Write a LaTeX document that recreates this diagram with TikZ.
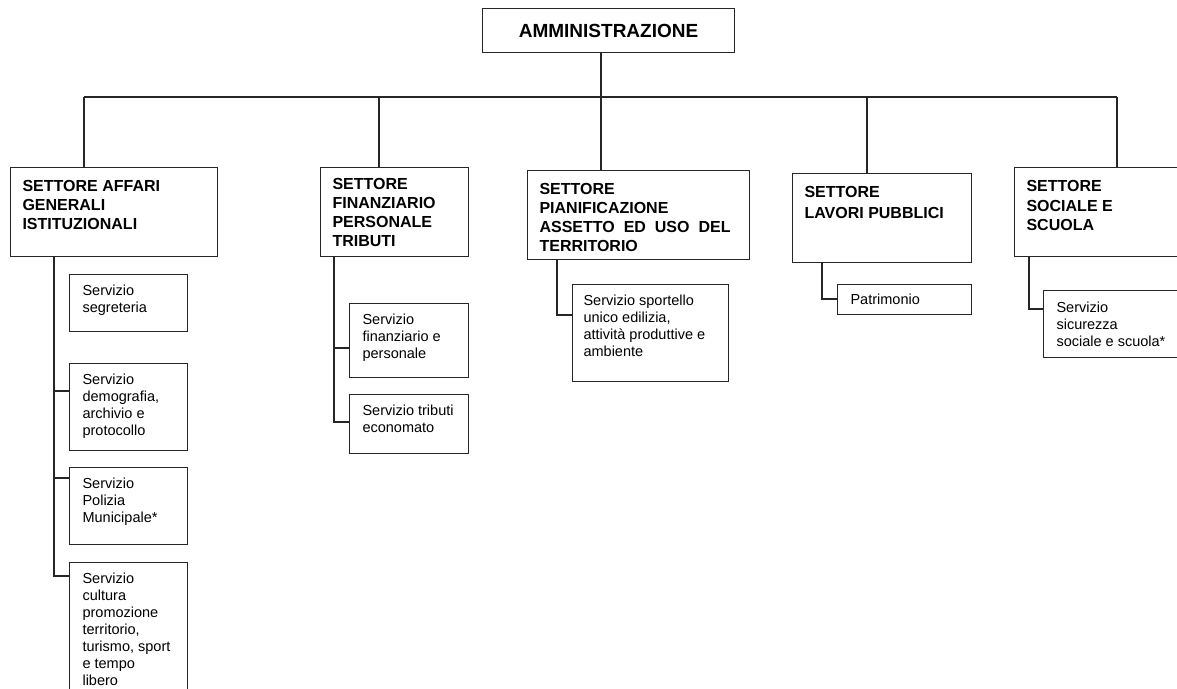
\documentclass[tikz,border=0pt]{standalone}
\usepackage{fontspec}
\setmainfont{Liberation Sans}

% text box with fixed size, text at top left
\newcommand{\cella}[3]{\parbox[t][#2][t]{#1}{\raggedright #3}}

\begin{document}
\begin{tikzpicture}[x=1pt,y=-1pt,line width=1.1pt,draw=black!85,
    box/.style={rectangle,draw,anchor=north west,inner sep=0pt},
    head node/.style={box,minimum width=252pt,minimum height=44pt,
                      font=\bfseries\fontsize{19}{22}\selectfont},
    sector node/.style={box,inner xsep=12pt,inner ysep=13pt,
                        font=\bfseries\fontsize{16}{19}\selectfont},
    service node/.style={box,inner xsep=13pt,inner ysep=10pt,
                         font=\fontsize{14.5}{17}\selectfont}]
  \useasboundingbox (0,0) rectangle (1177,688);
  \clip (0,0) rectangle (1177,688);

  \node[head node] (admin) at (482,8) {AMMINISTRAZIONE};

  % settori
  \node[sector node] (s1) at (10,167)
    {\cella{183pt}{63pt}{SETTORE AFFARI\\GENERALI\\ISTITUZIONALI}};
  \node[sector node,inner ysep=11pt] (s2) at (320,167)
    {\cella{124pt}{67pt}{SETTORE\\FINANZIARIO\\PERSONALE\\TRIBUTI}};
  \node[sector node] (s3) at (527,170)
    {\cella{198pt}{63pt}{SETTORE\\PIANIFICAZIONE\\\makebox[191pt][s]{ASSETTO ED USO DEL}\\TERRITORIO}};
  \node[sector node] (s4) at (792,173)
    {\cella{155pt}{63pt}{SETTORE\\[2pt]LAVORI PUBBLICI}};
  \node[sector node] (s5) at (1014,167)
    {\cella{176pt}{63pt}{SETTORE\\[1pt]SOCIALE E\\SCUOLA}};

  % servizi
  \node[service node] (seg) at (69,274)
    {\cella{92pt}{37pt}{Servizio\\segreteria}};
  \node[service node] (demo) at (69,363)
    {\cella{92pt}{67pt}{Servizio\\demografia,\\archivio e\\protocollo}};
  \node[service node] (pol) at (69,467)
    {\cella{92pt}{57pt}{Servizio\\Polizia\\Municipale*}};
  \node[service node] (cult) at (69,562)
    {\cella{92pt}{120pt}{Servizio\\cultura\\promozione\\territorio,\\turismo, sport\\e tempo\\libero}};
  \node[service node] (fin) at (349,303)
    {\cella{93pt}{54pt}{Servizio\\finanziario e\\personale}};
  \node[service node] (trib) at (349,394)
    {\cella{93pt}{39pt}{Servizio tributi\\economato}};
  \node[service node,inner xsep=11pt] (sport) at (572,284)
    {\cella{134pt}{77pt}{Servizio sportello\\unico edilizia,\\attività produttive e\\ambiente}};
  \node[service node,inner ysep=9pt] (patr) at (837,284)
    {\cella{108pt}{12pt}{Patrimonio}};
  \node[service node,inner ysep=11pt] (sic) at (1043,290)
    {\cella{119pt}{45pt}{Servizio\\sicurezza\\sociale e scuola*}};

  % linee dall'amministrazione ai settori
  \coordinate (bus) at (0,97);
  \coordinate (admin-bot) at ([xshift=119pt]admin.south west);
  \foreach \s/\dx in {s1/74,s2/59,s3/74,s4/75,s5/103}
    \coordinate (\s-top) at ([xshift=\dx pt]\s.north west);
  \draw (s1-top |- bus) -- (s5-top |- bus);
  \draw (admin-bot) -- (admin-bot |- bus);
  \foreach \s in {s1,s2,s3,s4,s5}
    \draw (\s-top |- bus) -- (\s-top);

  % linee dai settori ai servizi
  \draw ([xshift=44pt]s1.south west) |- ([yshift=-28pt]demo.north west);
  \draw ([xshift=44pt]s1.south west) |- ([yshift=-11pt]pol.north west);
  \draw ([xshift=44pt]s1.south west) |- ([yshift=-14pt]cult.north west);
  \draw ([xshift=14pt]s2.south west) |- ([yshift=-45pt]fin.north west);
  \draw ([xshift=14pt]s2.south west) |- ([yshift=-28pt]trib.north west);
  \draw ([xshift=30pt]s3.south west) |- ([yshift=-31pt]sport.north west);
  \draw ([xshift=30pt]s4.south west) |- ([yshift=-15pt]patr.north west);
  \draw ([xshift=15pt]s5.south west) |- ([yshift=-19pt]sic.north west);
\end{tikzpicture}
\end{document}
